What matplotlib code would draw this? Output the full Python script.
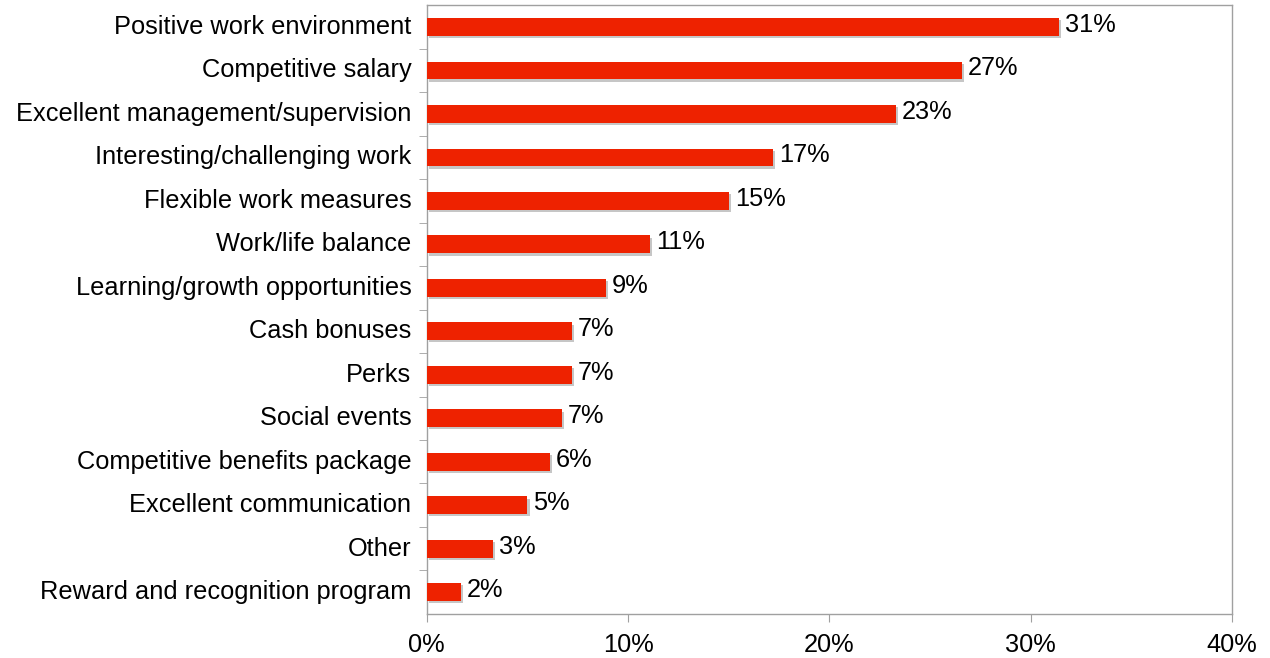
import matplotlib
matplotlib.use("Agg")
import matplotlib.pyplot as plt
import matplotlib.patheffects as pe
import matplotlib.transforms as mtransforms
from matplotlib.ticker import FuncFormatter

plt.rcParams["font.family"] = ["Liberation Sans", "DejaVu Sans"]

categories = [
    "Positive work environment",
    "Competitive salary",
    "Excellent management/supervision",
    "Interesting/challenging work",
    "Flexible work measures",
    "Work/life balance",
    "Learning/growth opportunities",
    "Cash bonuses",
    "Perks",
    "Social events",
    "Competitive benefits package",
    "Excellent communication",
    "Other",
    "Reward and recognition program",
]
values = [31.4, 26.6, 23.3, 17.2, 15.0, 11.1, 8.9, 7.2, 7.2, 6.7, 6.1, 5.0, 3.3, 1.7]
xticks = [0, 10, 20, 30, 40]

BAR_RED = "#ee2200"
FRAME = "#a0a0a0"
FS = 18.3

fig = plt.figure(figsize=(12.7, 6.58), dpi=100)
ax = fig.add_axes([0.336, 0.067, 0.634, 0.925])

ypos = list(range(len(categories)))
bars = ax.barh(ypos, values, height=0.41, color=BAR_RED, edgecolor="none", zorder=3)
for b in bars:
    b.set_path_effects([
        pe.SimplePatchShadow(offset=(1.6, -1.6), shadow_rgbFace="#b8b8b8", alpha=0.8),
        pe.Normal(),
    ])

for y, v in zip(ypos, values):
    ax.text(v + 0.3, y - 0.05, f"{v:.0f}%", va="center", ha="left", fontsize=FS, color="black")

ax.set_xlim(0, 40)
ax.set_ylim(len(categories) - 0.5, -0.5)
ax.set_xticks(xticks)
ax.xaxis.set_major_formatter(FuncFormatter(lambda x, _: f"{x:.0f}%"))

ax.set_yticks(ypos)
ax.set_yticklabels(categories)
# tick marks sit between the categories, labels centred on the bars
ax.set_yticks([y + 0.5 for y in ypos[:-1]], minor=True)
ax.tick_params(axis="y", which="major", length=0, pad=11, labelsize=FS)
ax.tick_params(axis="y", which="minor", length=6, color=FRAME, direction="out")
ax.tick_params(axis="x", length=6, color=FRAME, direction="out", pad=8, labelsize=FS)

# nudge category names up a little so they sit level with the bars
lift = mtransforms.ScaledTranslation(0, 2.5 / 100, fig.dpi_scale_trans)
for lbl in ax.get_yticklabels():
    lbl.set_transform(lbl.get_transform() + lift)

for s in ax.spines.values():
    s.set_color(FRAME)
    s.set_linewidth(1.0)

fig.savefig("out.png", dpi=100, facecolor="white")
